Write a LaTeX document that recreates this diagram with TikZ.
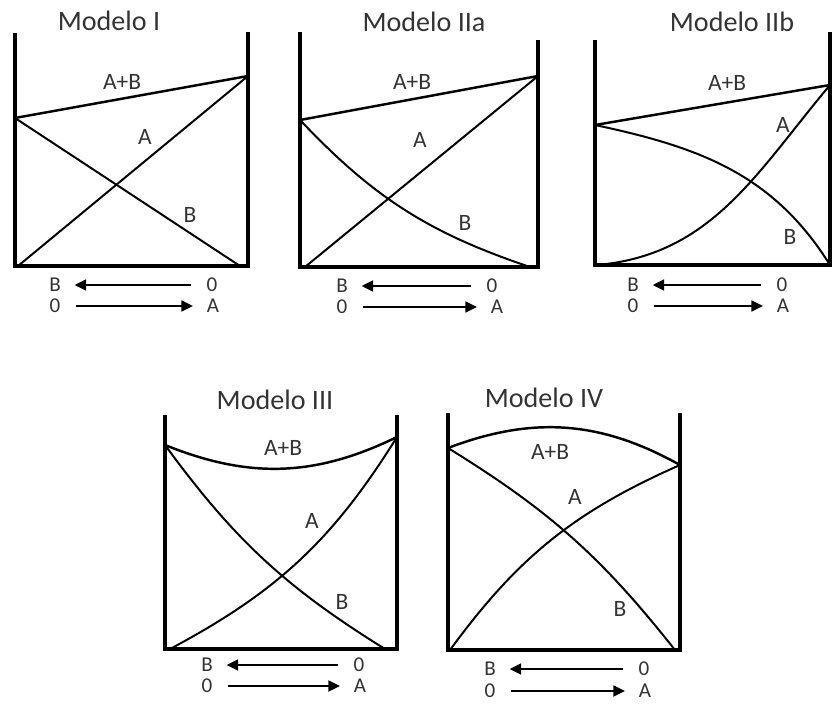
\documentclass[tikz,border=0pt]{standalone}
\usepackage{fontspec}
\setmainfont{Carlito}
\usetikzlibrary{arrows.meta}

\begin{document}
\begin{tikzpicture}[x=0.03cm, y=0.03cm,
  wall/.style={line width=2.8pt},
  curve/.style={line width=1.7pt},
  sum/.style={line width=2.1pt},
  arr/.style={-{Triangle[length=10pt,width=9pt]}, line width=2.5pt, shorten <=13pt, shorten >=11pt},
  title/.style={font=\fontsize{24}{28}\selectfont, text=black!80, anchor=base},
  lbl/.style={font=\fontsize{20}{24}\selectfont, text=black!80, inner sep=1pt},
  key/.style={font=\fontsize{18}{20}\selectfont, text=black!80, inner sep=0.5pt}]
 \useasboundingbox (0,0) rectangle (840,-709);
 % Modelo I
 \node[title] (title1) at (109,-31) {Modelo I};
 \coordinate (tl1) at (15,-33);
 \coordinate (bl1) at (15,-266);
 \coordinate (br1) at (248,-266);
 \coordinate (tr1) at (248,-32);
 \coordinate (l1) at (15,-118);
 \coordinate (r1) at (248,-76);
 \coordinate (s1) at (18,-266);
 \coordinate (e1) at (240,-266);
 \draw[wall] (tl1) -- (bl1) -- (br1) -- (tr1);
 \path[sum] (l1) edge (r1);
 \path[curve] (s1) edge (r1);
 \path[curve] (l1) edge (e1);
 \begin{scope}[every node/.style={lbl}]
  \node (ab1) at (122,-82) {A+B};
  \node (a1) at (145,-137) {A};
  \node (b1) at (190,-215) {B};
 \end{scope}
 \begin{scope}[every node/.style={key}]
  \node (lb1) at (55,-285) {B};
  \node (ro1) at (212,-285) {0};
  \node (lo1) at (55,-306) {0};
  \node (ra1) at (213,-306) {A};
 \end{scope}
 \draw[arr] (ro1) -- (lb1);
 \draw[arr] (lo1) -- (ra1);
 % Modelo IIa
 \node[title] (title2) at (424,-32) {Modelo IIa};
 \coordinate (tl2) at (300,-32);
 \coordinate (bl2) at (300,-267);
 \coordinate (br2) at (538,-267);
 \coordinate (tr2) at (538,-40);
 \coordinate (l2) at (300,-120);
 \coordinate (r2) at (538,-76);
 \coordinate (s2) at (305,-267);
 \coordinate (e2) at (530,-267);
 \draw[wall] (tl2) -- (bl2) -- (br2) -- (tr2);
 \path[sum] (l2) edge (r2);
 \path[curve] (s2) edge (r2);
 \path[curve] (l2) edge[bend right=14] (e2);
 \begin{scope}[every node/.style={lbl}]
  \node (ab2) at (412,-82) {A+B};
  \node (a2) at (420,-140) {A};
  \node (b2) at (465,-223) {B};
 \end{scope}
 \begin{scope}[every node/.style={key}]
  \node (lb2) at (342,-286) {B};
  \node (ro2) at (492,-286) {0};
  \node (lo2) at (342,-307) {0};
  \node (ra2) at (497,-307) {A};
 \end{scope}
 \draw[arr] (ro2) -- (lb2);
 \draw[arr] (lo2) -- (ra2);
 % Modelo IIb
 \node[title] (title3) at (732,-32) {Modelo IIb};
 \coordinate (tl3) at (595,-40);
 \coordinate (bl3) at (595,-265);
 \coordinate (br3) at (830,-265);
 \coordinate (tr3) at (830,-32);
 \coordinate (l3) at (595,-125);
 \coordinate (r3) at (830,-85);
 \coordinate (s3) at (597,-265);
 \coordinate (e3) at (830,-265);
 \draw[wall] (tl3) -- (bl3) -- (br3) -- (tr3);
 \path[sum] (l3) edge (r3);
 \path[curve] (s3) edge[out=5, in=230] (r3);
 \path[curve] (l3) edge[out=-12, in=122] (e3);
 \begin{scope}[every node/.style={lbl}]
  \node (ab3) at (727,-83) {A+B};
  \node (a3) at (783,-125) {A};
  \node (b3) at (790,-237) {B};
 \end{scope}
 \begin{scope}[every node/.style={key}]
  \node (lb3) at (633,-285) {B};
  \node (ro3) at (782,-285) {0};
  \node (lo3) at (633,-306) {0};
  \node (ra3) at (783,-306) {A};
 \end{scope}
 \draw[arr] (ro3) -- (lb3);
 \draw[arr] (lo3) -- (ra3);
 % Modelo III
 \node[title] (title4) at (275,-409) {Modelo III};
 \coordinate (tl4) at (165,-415);
 \coordinate (bl4) at (165,-649);
 \coordinate (br4) at (397,-649);
 \coordinate (tr4) at (397,-415);
 \coordinate (l4) at (165,-445);
 \coordinate (r4) at (397,-437);
 \coordinate (s4) at (170,-649);
 \coordinate (e4) at (385,-649);
 \draw[wall] (tl4) -- (bl4) -- (br4) -- (tr4);
 \path[sum] (l4) edge[bend right=24] (r4);
 \path[curve] (s4) edge[bend right=15] (r4);
 \path[curve] (l4) edge[bend right=11] (e4);
 \begin{scope}[every node/.style={lbl}]
  \node (ab4) at (283,-448) {A+B};
  \node (a4) at (312,-521) {A};
  \node (b4) at (342,-602) {B};
 \end{scope}
 \begin{scope}[every node/.style={key}]
  \node (lb4) at (207,-665) {B};
  \node (ro4) at (359,-665) {0};
  \node (lo4) at (207,-686) {0};
  \node (ra4) at (360,-686) {A};
 \end{scope}
 \draw[arr] (ro4) -- (lb4);
 \draw[arr] (lo4) -- (ra4);
 % Modelo IV
 \node[title] (title5) at (544,-407) {Modelo IV};
 \coordinate (tl5) at (448,-413);
 \coordinate (bl5) at (448,-650);
 \coordinate (br5) at (680,-650);
 \coordinate (tr5) at (680,-413);
 \coordinate (l5) at (448,-448);
 \coordinate (r5) at (680,-465);
 \coordinate (s5) at (450,-650);
 \coordinate (e5) at (675,-650);
 \draw[wall] (tl5) -- (bl5) -- (br5) -- (tr5);
 \path[sum] (l5) edge[bend left=25] (r5);
 \path[curve] (s5) edge[bend left=15] (r5);
 \path[curve] (l5) edge[bend left=10] (e5);
 \begin{scope}[every node/.style={lbl}]
  \node (ab5) at (550,-452) {A+B};
  \node (a5) at (575,-497) {A};
  \node (b5) at (620,-609) {B};
 \end{scope}
 \begin{scope}[every node/.style={key}]
  \node (lb5) at (490,-669) {B};
  \node (ro5) at (644,-669) {0};
  \node (lo5) at (490,-691) {0};
  \node (ra5) at (645,-691) {A};
 \end{scope}
 \draw[arr] (ro5) -- (lb5);
 \draw[arr] (lo5) -- (ra5);
\end{tikzpicture}
\end{document}
